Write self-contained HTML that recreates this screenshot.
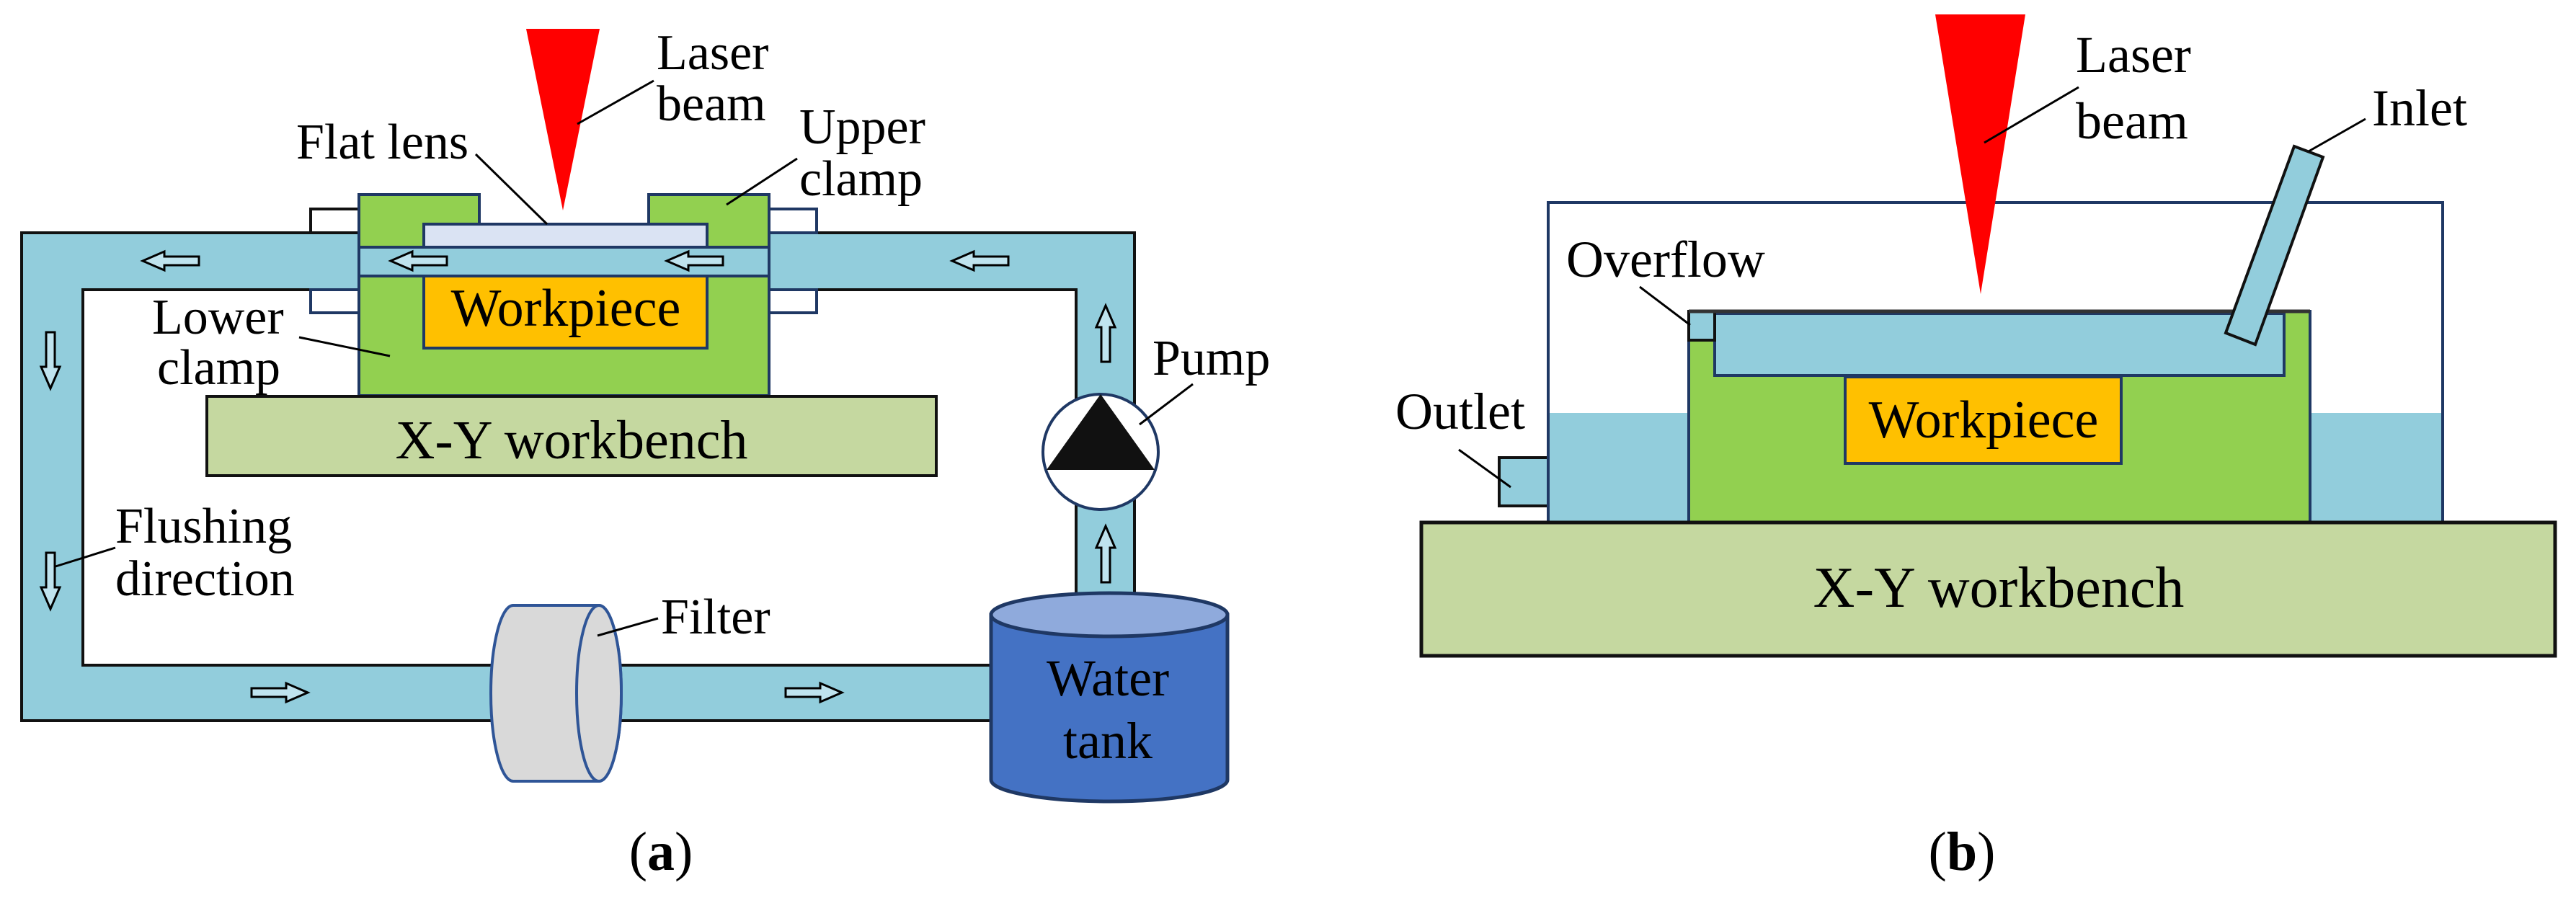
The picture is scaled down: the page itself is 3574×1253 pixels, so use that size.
<!DOCTYPE html>
<html><head><meta charset="utf-8"><style>
html,body{margin:0;padding:0;background:#fff;}
svg{display:block;}
svg text{font-family:"Liberation Serif","DejaVu Serif",serif;fill:#000;}
</style></head><body>
<svg width="3574" height="1253" viewBox="0 0 3574 1253" xmlns="http://www.w3.org/2000/svg" font-family="Liberation Serif, DejaVu Serif, serif">
<defs>
<path id="arL" d="M0,0 L30,-13 L30,-6 L78,-6 L78,6 L30,6 L30,13 Z" fill="#BFE3EE" stroke="#000" stroke-width="3"/>
</defs>
<!-- ===== Panel (a) ===== -->
<rect x="30" y="323" width="1544" height="677" fill="#92CDDC" stroke="#111" stroke-width="4"/>
<rect x="115" y="402" width="1378" height="521" fill="#fff" stroke="#111" stroke-width="4"/>
<rect x="431" y="290" width="67" height="33" fill="#fff" stroke="#111" stroke-width="4"/>
<rect x="431" y="402" width="67" height="32" fill="#fff" stroke="#1F3864" stroke-width="4"/>
<rect x="1067" y="290" width="66" height="33" fill="#fff" stroke="#1F3864" stroke-width="4"/>
<rect x="1067" y="402" width="66" height="32" fill="#fff" stroke="#1F3864" stroke-width="4"/>
<rect x="498" y="270" width="167" height="73" fill="#92D050" stroke="#1F3864" stroke-width="4"/>
<rect x="900" y="270" width="167" height="73" fill="#92D050" stroke="#1F3864" stroke-width="4"/>
<rect x="498" y="383" width="569" height="166" fill="#92D050" stroke="#1F3864" stroke-width="4"/>
<rect x="588" y="311" width="393" height="32" fill="#DAE3F3" stroke="#1F3864" stroke-width="4"/>
<rect x="498" y="343" width="569" height="40" fill="#92CDDC" stroke="#1F3864" stroke-width="4"/>
<rect x="588" y="383" width="393" height="100" fill="#FFC000" stroke="#1F3864" stroke-width="4"/>
<text x="785" y="452" font-size="74" text-anchor="middle">Workpiece</text>
<rect x="287" y="550" width="1012" height="110" fill="#C5D8A0" stroke="#111" stroke-width="4"/>
<text x="793" y="636" font-size="76" text-anchor="middle">X-Y workbench</text>
<polygon points="730,40 832,40 781,292" fill="#FF0000"/>
<line x1="907" y1="112" x2="801" y2="172" stroke="#000" stroke-width="3"/>
<text x="911" y="96" font-size="70">Laser</text>
<text x="911" y="167" font-size="70">beam</text>
<text x="411" y="220" font-size="70">Flat lens</text>
<line x1="660" y1="214" x2="759" y2="311" stroke="#000" stroke-width="3"/>
<text x="1109" y="199" font-size="70">Upper</text>
<text x="1109" y="271" font-size="70">clamp</text>
<line x1="1106" y1="220" x2="1008" y2="284" stroke="#000" stroke-width="3"/>
<text x="211" y="463" font-size="70">Lower</text>
<text x="218" y="533" font-size="70">clamp</text>
<line x1="415" y1="468" x2="541" y2="494" stroke="#000" stroke-width="3"/>
<use href="#arL" transform="translate(198,362)"/>
<use href="#arL" transform="translate(542,362)"/>
<use href="#arL" transform="translate(925,362)"/>
<use href="#arL" transform="translate(1321,362)"/>
<use href="#arL" transform="translate(70,539) rotate(-90)"/>
<use href="#arL" transform="translate(70,845) rotate(-90)"/>
<use href="#arL" transform="translate(427,961) rotate(180)"/>
<use href="#arL" transform="translate(1168,961) rotate(180)"/>
<use href="#arL" transform="translate(1534,424) rotate(90)"/>
<use href="#arL" transform="translate(1534,730) rotate(90)"/>
<text x="160" y="753" font-size="70">Flushing</text>
<text x="160" y="826" font-size="70">direction</text>
<line x1="160" y1="760" x2="77" y2="786" stroke="#000" stroke-width="3"/>
<circle cx="1527" cy="627" r="80" fill="#fff" stroke="#1F3864" stroke-width="4"/>
<polygon points="1527,547 1602,652 1452,652" fill="#111"/>
<text x="1599" y="520" font-size="70">Pump</text>
<line x1="1655" y1="533" x2="1581" y2="589" stroke="#000" stroke-width="3"/>
<path d="M712,840 L831,840 A31,122 0 0 1 831,1084 L712,1084 A31,122 0 0 1 712,840 Z" fill="#D9D9D9" stroke="#2F5597" stroke-width="4"/>
<ellipse cx="831" cy="962" rx="31" ry="122" fill="#D9D9D9" stroke="#2F5597" stroke-width="4"/>
<text x="917" y="879" font-size="70">Filter</text>
<line x1="913" y1="858" x2="829" y2="882" stroke="#000" stroke-width="3"/>
<path d="M1375,853 L1375,1082 A164,30 0 0 0 1703,1082 L1703,853 Z" fill="#4472C4" stroke="#1F3864" stroke-width="5"/>
<ellipse cx="1539" cy="853" rx="164" ry="30" fill="#8FAADC" stroke="#1F3864" stroke-width="5"/>
<text x="1537" y="965" font-size="72" text-anchor="middle">Water</text>
<text x="1537" y="1052" font-size="72" text-anchor="middle">tank</text>
<text x="917" y="1207" font-size="76" text-anchor="middle">(<tspan font-weight="bold">a</tspan>)</text>

<!-- ===== Panel (b) ===== -->
<rect x="2148" y="281" width="1241" height="444" fill="#fff" stroke="#1F3864" stroke-width="4"/>
<rect x="2148" y="573" width="1241" height="152" fill="#92CDDC"/>
<rect x="2080" y="635" width="68" height="67" fill="#92CDDC" stroke="#111" stroke-width="4"/>
<line x1="2148" y1="281" x2="2148" y2="725" stroke="#1F3864" stroke-width="4"/>
<line x1="3389" y1="281" x2="3389" y2="725" stroke="#1F3864" stroke-width="4"/>
<rect x="2343" y="432" width="862" height="293" fill="#92D050" stroke="#1F3864" stroke-width="4"/>
<rect x="2379" y="435" width="790" height="86" fill="#92CDDC" stroke="#1F3864" stroke-width="4"/>
<rect x="2343" y="432" width="36" height="40" fill="#92CDDC" stroke="#111" stroke-width="4"/>
<line x1="2343" y1="432" x2="3205" y2="432" stroke="#333" stroke-width="5"/>
<rect x="2560" y="523" width="383" height="120" fill="#FFC000" stroke="#1F3864" stroke-width="4"/>
<text x="2752" y="607" font-size="74" text-anchor="middle">Workpiece</text>
<polygon points="3183,203 3223,218 3129,478 3088,462" fill="#92CDDC" stroke="#111" stroke-width="4"/>
<rect x="1972" y="725" width="1573" height="185" fill="#C5D8A0" stroke="#111" stroke-width="5"/>
<text x="2773" y="842" font-size="80" text-anchor="middle">X-Y workbench</text>
<polygon points="2685,20 2810,20 2748,408" fill="#FF0000"/>
<text x="2880" y="100" font-size="72">Laser</text>
<text x="2880" y="192" font-size="72">beam</text>
<line x1="2884" y1="121" x2="2753" y2="198" stroke="#000" stroke-width="3"/>
<text x="3291" y="174" font-size="72">Inlet</text>
<line x1="3282" y1="165" x2="3203" y2="210" stroke="#000" stroke-width="3"/>
<text x="2173" y="384" font-size="72">Overflow</text>
<line x1="2275" y1="398" x2="2345" y2="451" stroke="#000" stroke-width="3"/>
<text x="1936" y="595" font-size="72">Outlet</text>
<line x1="2024" y1="624" x2="2096" y2="676" stroke="#000" stroke-width="3"/>
<text x="2722" y="1207" font-size="76" text-anchor="middle">(<tspan font-weight="bold">b</tspan>)</text>
</svg>
</body></html>
